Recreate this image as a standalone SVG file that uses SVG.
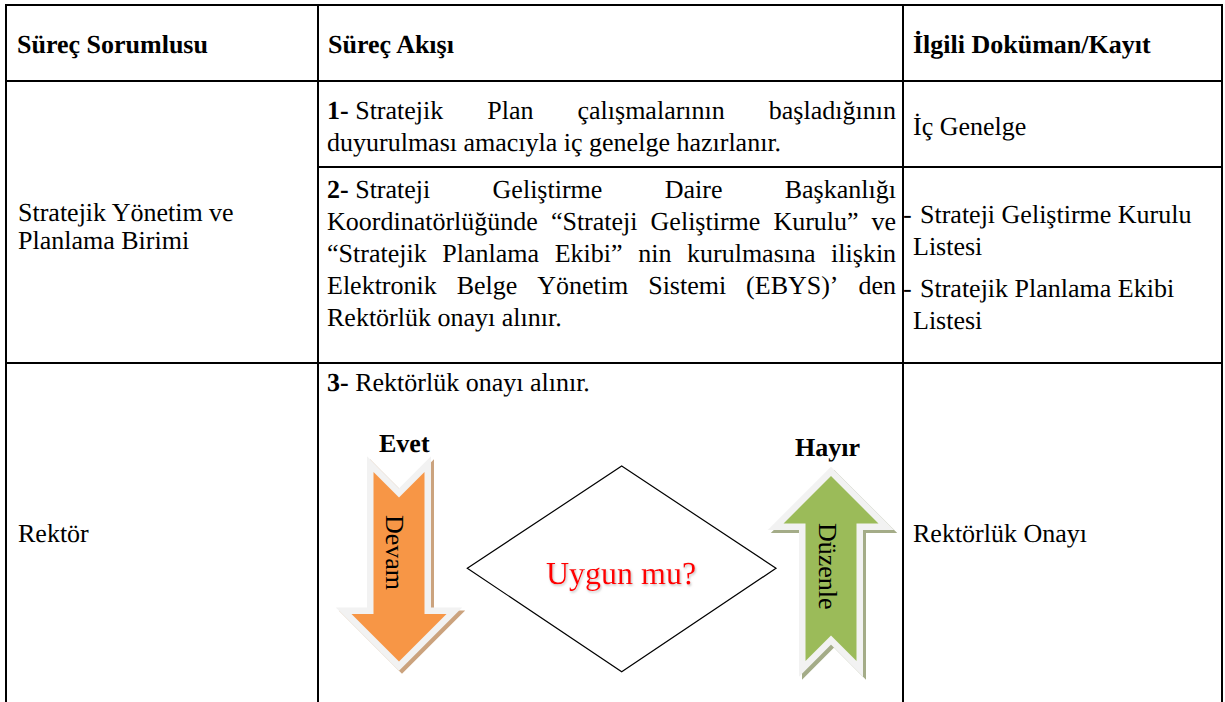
<svg xmlns="http://www.w3.org/2000/svg" width="1225" height="702" viewBox="0 0 1225 702" text-rendering="geometricPrecision">
<defs>
<style>
text{font-family:"Liberation Serif","Times New Roman",serif;font-size:26px;fill:#000}
.b{font-weight:bold}
.grid{stroke:#000;stroke-width:2;fill:none}
.arrow{stroke:#F2F2F2;stroke-width:13;stroke-linejoin:miter;stroke-miterlimit:10;paint-order:stroke}
.oshadow{fill:#CBA37E;stroke:#CBA37E;stroke-width:13;stroke-linejoin:miter;stroke-miterlimit:10}
.gshadow{fill:#A4AC88;stroke:#A4AC88;stroke-width:13;stroke-linejoin:miter;stroke-miterlimit:10}
</style>
<filter id="ts" x="-10%" y="-40%" width="130%" height="180%">
<feDropShadow dx="1" dy="1.5" stdDeviation="1" flood-color="#999" flood-opacity="0.6"/>
</filter>
<polygon id="downArrow" points="373.5,472 399,497.5 424.5,472 424.5,614 446.5,614 399,661.5 351.5,614 373.5,614"/>
<polygon id="upArrow" points="831,476 878.5,523.5 856.5,523.5 856.5,661 831,635.5 805.5,661 805.5,523.5 783.5,523.5"/>
</defs>
<rect width="1225" height="702" fill="#fff"/>

<g id="table" class="grid">
<path d="M5,5H1223 M6,81H1222 M318,167H1222 M6,363H1222 M6,4V702 M318,4V702 M903,4V702 M1222,4V702"/>
</g>

<g id="header">
<text class="b" x="17" y="53">Süreç Sorumlusu</text>
<text class="b" x="328" y="53">Süreç Akışı</text>
<text class="b" x="913" y="53">İlgili Doküman/Kayıt</text>
</g>

<g id="responsible-strategic">
<text x="18" y="221">Stratejik Yönetim ve</text>
<text x="18" y="249">Planlama Birimi</text>
</g>

<g id="responsible-rector">
<text x="18" y="542">Rektör</text>
</g>

<g id="step1">
<text y="119"><tspan class="b" x="327">1-</tspan> <tspan x="355.2">Stratejik</tspan> <tspan x="487.3">Plan</tspan> <tspan x="577.5">çalışmalarının</tspan> <tspan x="768.8">başladığının</tspan></text>
<text x="327" y="151">duyurulması amacıyla iç genelge hazırlanır.</text>
</g>

<g id="doc1">
<text x="913" y="135">İç Genelge</text>
</g>

<g id="step2">
<text y="198"><tspan class="b" x="327">2-</tspan> <tspan x="355.2">Strateji</tspan> <tspan x="492.6">Geliştirme</tspan> <tspan x="664.7">Daire</tspan> <tspan x="784.7">Başkanlığı</tspan></text>
<text y="230"><tspan x="327">Koordinatörlüğünde</tspan> <tspan x="550.9">“Strateji</tspan> <tspan x="650.6">Geliştirme</tspan> <tspan x="773.4">Kurulu”</tspan> <tspan x="871.6">ve</tspan></text>
<text y="262"><tspan x="327">“Stratejik</tspan> <tspan x="442.3">Planlama</tspan> <tspan x="554.7">Ekibi”</tspan> <tspan x="638.2">nin</tspan> <tspan x="687">kurulmasına</tspan> <tspan x="831.1">ilişkin</tspan></text>
<text y="294"><tspan x="327">Elektronik</tspan> <tspan x="456.7">Belge</tspan> <tspan x="537.3">Yönetim</tspan> <tspan x="648.2">Sistemi</tspan> <tspan x="746.1">(EBYS)’</tspan> <tspan x="858.4">den</tspan></text>
<text x="327" y="326">Rektörlük onayı alınır.</text>
</g>

<g id="doc2">
<text y="223"><tspan x="903">-</tspan> <tspan x="920">Strateji Geliştirme Kurulu</tspan></text>
<text x="913" y="255">Listesi</text>
<text y="297"><tspan x="903">-</tspan> <tspan x="920">Stratejik Planlama Ekibi</tspan></text>
<text x="913" y="329">Listesi</text>
</g>

<g id="step3">
<text y="391"><tspan class="b" x="327">3-</tspan> <tspan>Rektörlük onayı alınır.</tspan></text>
</g>

<g id="doc3">
<text x="913" y="542">Rektörlük Onayı</text>
</g>

<g id="decision">
<polygon points="621.7,466 776,568.3 621.7,671.7 467.3,568.3" fill="#fff" stroke="#000" stroke-width="1.2"/>
<text x="621" y="584" text-anchor="middle" style="font-size:32px;fill:#FF0000" filter="url(#ts)">Uygun mu?</text>
</g>

<g id="connectors">
<g id="yes-arrow">
<use href="#downArrow" class="oshadow" transform="translate(3,3)"/>
<use href="#downArrow" class="arrow" fill="#F79646"/>
<text class="b" x="379" y="452">Evet</text>
<text transform="translate(386,515) rotate(90)">Devam</text>
</g>
<g id="no-arrow">
<use href="#upArrow" class="gshadow" transform="translate(3,3)"/>
<use href="#upArrow" class="arrow" fill="#9BBB59"/>
<text class="b" x="795" y="456">Hayır</text>
<text transform="translate(819,523) rotate(90)">Düzenle</text>
</g>
</g>
</svg>
